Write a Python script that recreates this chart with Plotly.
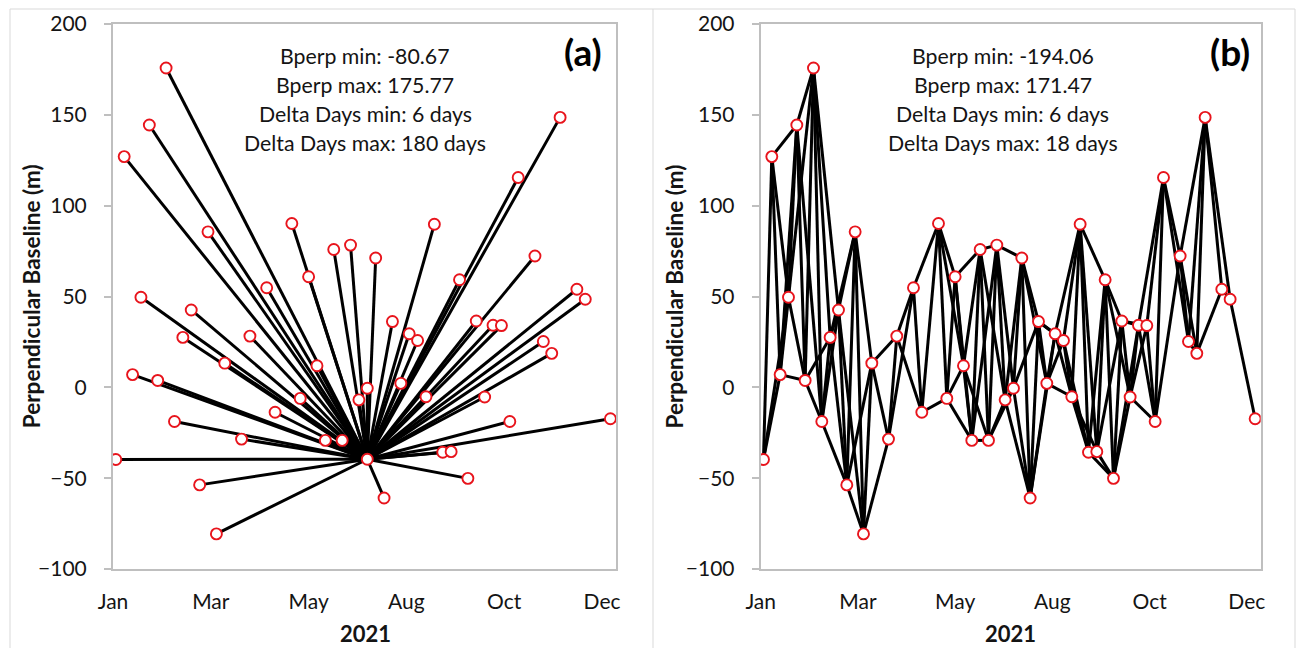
import plotly.graph_objects as go
from datetime import date

W, H = 1298, 648

# ---------------- data ----------------
acq_dates = [
    "2021-01-05", "2021-01-11", "2021-01-17", "2021-01-23", "2021-01-29",
    "2021-02-04", "2021-02-10", "2021-02-16", "2021-02-22", "2021-02-28",
    "2021-03-06", "2021-03-12", "2021-03-18", "2021-03-24", "2021-04-05",
    "2021-04-11", "2021-04-23", "2021-04-29", "2021-05-11", "2021-05-17",
    "2021-05-23", "2021-05-29", "2021-06-04", "2021-06-10", "2021-06-16",
    "2021-06-22", "2021-06-28", "2021-07-04", "2021-07-10", "2021-07-16",
    "2021-07-22", "2021-07-28", "2021-08-03", "2021-08-09", "2021-08-15",
    "2021-08-21", "2021-08-27", "2021-09-02", "2021-09-08", "2021-09-14",
    "2021-09-20", "2021-09-26", "2021-10-02", "2021-10-08", "2021-10-14",
    "2021-10-20", "2021-11-01", "2021-11-07", "2021-11-13", "2021-11-19",
    "2021-12-01", "2021-12-07", "2021-12-25",
]
bperp = [
    -39.7, 127.0, 7.0, 49.6, 144.4,
    3.8, 175.77, -18.8, 27.5, 42.6,
    -53.7, 85.6, -80.67, 13.3, -28.5,
    28.2, 54.8, -13.7, 90.2, -6.1,
    60.9, 11.9, -29.2, 75.9, -29.2,
    78.3, -6.9, -0.5, 71.2, -60.9,
    36.2, 2.2, 29.5, 25.8, -5.2,
    89.8, -35.7, -35.4, 59.2, -50.1,
    36.5, -5.3, 34.2, 34.0, -18.8,
    115.5, 72.3, 25.2, 18.7, 148.6,
    54.0, 48.5, -17.3,
]
master_date = "2021-07-04"
master_bperp = -39.6
max_delta_days = 18

axis_start = "2021-01-03"
axis_end = "2021-12-29"
x_tick_dates = ["2021-01-03", "2021-03-14", "2021-05-23", "2021-08-01", "2021-10-10", "2021-12-19"]
x_tick_labels = ["Jan", "Mar", "May", "Aug", "Oct", "Dec"]
y_ticks = [-100, -50, 0, 50, 100, 150, 200]

stats_a = ["Bperp min: -80.67", "Bperp max: 175.77", "Delta Days min: 6 days", "Delta Days max: 180 days"]
stats_b = ["Bperp min: -194.06", "Bperp max: 171.47", "Delta Days min: 6 days", "Delta Days max: 18 days"]
panel_labels = ["(a)", "(b)"]
x_title = "2021"
y_title = "Perpendicular Baseline (m)"

# ---------------- styling ----------------
FONT = "Lato, Carlito, 'Open Sans', sans-serif"
TXT = "#141414"
AXC = "#bfbfbf"
LINE_W = 3
MARK = dict(symbol="circle", size=11, color="white", line=dict(color="#e8141c", width=1.9))

def px_x(p):
    return p / W

def px_y(p):
    return 1 - p / H

dom_a = [px_x(113), px_x(616)]
dom_b = [px_x(760.7), px_x(1260.7)]
dom_y = [px_y(569), px_y(24)]

fig = go.Figure()

# ---- panel (a): star network to master ----
xa, ya = [], []
for d, b in zip(acq_dates, bperp):
    xa += [d, master_date, None]
    ya += [b, master_bperp, None]
fig.add_trace(go.Scatter(x=xa, y=ya, mode="lines", line=dict(color="black", width=LINE_W),
                         xaxis="x", yaxis="y", hoverinfo="skip", showlegend=False))
fig.add_trace(go.Scatter(x=acq_dates + [master_date], y=bperp + [master_bperp], mode="markers",
                         marker=MARK, xaxis="x", yaxis="y", showlegend=False))

# ---- panel (b): small baseline network ----
dts = [date.fromisoformat(d) for d in acq_dates]
xb, yb = [], []
for i in range(len(dts)):
    for j in range(i + 1, len(dts)):
        dd = (dts[j] - dts[i]).days
        if dd <= max_delta_days:
            xb += [acq_dates[i], acq_dates[j], None]
            yb += [bperp[i], bperp[j], None]
fig.add_trace(go.Scatter(x=xb, y=yb, mode="lines", line=dict(color="black", width=LINE_W),
                         xaxis="x2", yaxis="y2", hoverinfo="skip", showlegend=False))
fig.add_trace(go.Scatter(x=acq_dates, y=bperp, mode="markers", marker=MARK,
                         xaxis="x2", yaxis="y2", showlegend=False))

xcommon = dict(type="date", range=[axis_start, axis_end], tickmode="array",
               tickvals=x_tick_dates, ticktext=x_tick_labels, ticks="",
               showgrid=False, zeroline=False, showline=True, linecolor=AXC, linewidth=2,
               mirror=True, tickfont=dict(family=FONT, size=21, color=TXT),
               ticklabelstandoff=13, automargin=False, fixedrange=True)
ycommon = dict(range=[-100, 200], tickmode="array", tickvals=y_ticks, ticks="outside",
               ticklen=7, tickcolor=AXC, tickwidth=2, showgrid=False, zeroline=False,
               showline=True, linecolor=AXC, linewidth=2, mirror=True,
               tickfont=dict(family=FONT, size=21, color=TXT), ticklabelstandoff=13,
               automargin=False, fixedrange=True)

fig.update_layout(
    width=W, height=H, margin=dict(l=0, r=0, t=0, b=0, pad=0),
    paper_bgcolor="white", plot_bgcolor="white",
    xaxis=dict(domain=dom_a, anchor="y", **xcommon),
    yaxis=dict(domain=dom_y, anchor="x", **ycommon),
    xaxis2=dict(domain=dom_b, anchor="y2", **xcommon),
    yaxis2=dict(domain=dom_y, anchor="x2", **ycommon),
    showlegend=False,
)

ann = []
line_y = [56, 85, 114, 143]
for cx, stats in [(365, stats_a), (1002.5, stats_b)]:
    for t, py in zip(stats, line_y):
        ann.append(dict(x=px_x(cx), y=px_y(py), xref="paper", yref="paper", text=t,
                        showarrow=False, xanchor="center", yanchor="middle",
                        font=dict(family=FONT, size=21.3, color=TXT)))
for cx, lab in [(583, panel_labels[0]), (1230, panel_labels[1])]:
    ann.append(dict(x=px_x(cx), y=px_y(51), xref="paper", yref="paper", text="<b>%s</b>" % lab,
                    showarrow=False, xanchor="center", yanchor="middle",
                    font=dict(family=FONT, size=37, color="black")))
for cx in [365, 1010]:
    ann.append(dict(x=px_x(cx), y=px_y(633), xref="paper", yref="paper", text="<b>%s</b>" % x_title,
                    showarrow=False, xanchor="center", yanchor="middle",
                    font=dict(family=FONT, size=22, color=TXT)))
for cx in [31.7, 674]:
    ann.append(dict(x=px_x(cx), y=px_y(296.5), xref="paper", yref="paper", text="<b>%s</b>" % y_title,
                    showarrow=False, xanchor="center", yanchor="middle", textangle=-90,
                    font=dict(family=FONT, size=22.5, color=TXT)))
fig.update_layout(annotations=ann)

fig.update_layout(shapes=[
    dict(type="rect", xref="paper", yref="paper", x0=px_x(10), x1=px_x(1295), y0=-0.05, y1=px_y(9),
         line=dict(color="#d9d9d9", width=1), layer="below"),
    dict(type="line", xref="paper", yref="paper", x0=px_x(653), x1=px_x(653), y0=-0.05, y1=px_y(9),
         line=dict(color="#d9d9d9", width=1), layer="below"),
])

fig.write_html("out.html")
